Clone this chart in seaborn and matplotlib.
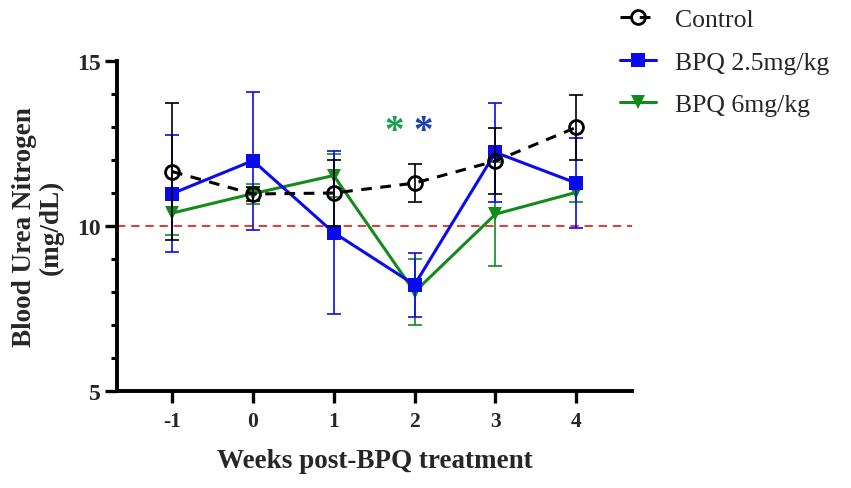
import numpy as np
import pandas as pd
import matplotlib
matplotlib.use("Agg")
import matplotlib.pyplot as plt
from matplotlib.ticker import MultipleLocator
import seaborn as sns

weeks = [-1, 0, 1, 2, 3, 4]
week_labels = ["-1", "0", "1", "2", "3", "4"]
control_mean = [11.65, 10.97, 11.0, 11.3, 11.97, 12.99]
control_sd = [2.07, 0.2, 1.0, 0.58, 1.0, 0.99]
bpq25_mean = [10.98, 11.98, 9.8, 8.22, 12.23, 11.3]
bpq25_sd = [1.78, 2.09, 2.47, 0.97, 1.5, 1.36]
bpq6_mean = [10.39, 10.98, 11.53, 8.0, 10.36, 11.02]
bpq6_sd = [0.65, 0.3, 0.65, 1.0, 1.57, 0.3]
series_names = ["Control", "BPQ 2.5mg/kg", "BPQ 6mg/kg"]
threshold = 10

sns.set_theme(style="ticks")
plt.rcParams['font.family'] = ['Liberation Serif', 'DejaVu Serif']
plt.rcParams['font.weight'] = 'bold'

fig = plt.figure(figsize=(8.51, 4.89), dpi=100)
ax = fig.add_axes([0.1375, 0.1984, 0.6053, 0.6748])

black = "#000000"
blue = "#0a0aee"
green = "#138a1c"

# green (bottom)
sns.lineplot(x=weeks, y=bpq6_mean, ax=ax, color=green, lw=2.2, marker="v",
             markersize=10, markeredgewidth=0, zorder=3, label=series_names[2])
ax.errorbar(weeks, bpq6_mean, yerr=bpq6_sd, fmt="none", ecolor=green,
            elinewidth=1.2, capsize=4.7, capthick=1.2, zorder=2.5)
# blue
sns.lineplot(x=weeks, y=bpq25_mean, ax=ax, color=blue, lw=2.2, marker="s",
             markersize=9.5, markeredgewidth=0, zorder=5, label=series_names[1])
ax.errorbar(weeks, bpq25_mean, yerr=bpq25_sd, fmt="none", ecolor=blue,
            elinewidth=1.2, capsize=4.7, capthick=1.2, zorder=4.5)
# control (top)
sns.lineplot(x=weeks, y=control_mean, ax=ax, color=black, lw=2.2, marker="o",
             markersize=10, markerfacecolor="none", markeredgecolor=black,
             markeredgewidth=2.0, linestyle=(0, (3.5, 2.8)), zorder=7,
             label=series_names[0])
ax.errorbar(weeks, control_mean, yerr=control_sd, fmt="none", ecolor=black,
            elinewidth=1.2, capsize=4.7, capthick=1.2, zorder=6.5)

ax.axhline(threshold, color="#ee1111", lw=1.2, ls=(0, (5, 3.5)), zorder=1)

# significance asterisks
ax.text(1.75, 12.85, "*", color="#1aa050", fontsize=28, fontweight="bold",
        ha="center", va="center")
ax.text(2.1, 12.85, "*", color="#1f3fb0", fontsize=28, fontweight="bold",
        ha="center", va="center")

ax.set_xlim(-1.68, 4.69)
ax.set_ylim(5, 15)
ax.set_xticks(weeks)
ax.set_xticklabels(week_labels)
ax.set_yticks([5, 10, 15])
ax.yaxis.set_minor_locator(MultipleLocator(1))

sns.despine(ax=ax)
for s in ["left", "bottom"]:
    ax.spines[s].set_linewidth(2.8)
    ax.spines[s].set_color("black")
ax.tick_params(axis="both", which="major", length=8.5, width=2.4, color="black")
ax.tick_params(axis="y", which="minor", length=4, width=2.2, color="black")
ax.tick_params(axis="y", labelsize=17, pad=3)
ax.tick_params(axis="x", labelsize=15.5, pad=6)
for lab in ax.get_xticklabels() + ax.get_yticklabels():
    lab.set_fontweight("bold")

ax.set_xlabel("Weeks post-BPQ treatment", fontsize=19.5, fontweight="bold", labelpad=12)
ax.set_ylabel("Blood Urea Nitrogen\n(mg/dL)", fontsize=19.5, fontweight="bold",
              labelpad=10, linespacing=1.05)

handles, labels = ax.get_legend_handles_labels()
order = [labels.index(n) for n in series_names]
ax.get_legend().remove()
fig.legend([handles[i] for i in order], [labels[i] for i in order],
           loc="upper left", bbox_to_anchor=(0.701, 1.028), frameon=False,
           handlelength=1.4, handletextpad=0.75, labelspacing=0.76,
           prop={"family": "Liberation Serif", "weight": "normal", "size": 18.5})

fig.savefig("out.png", dpi=100)
